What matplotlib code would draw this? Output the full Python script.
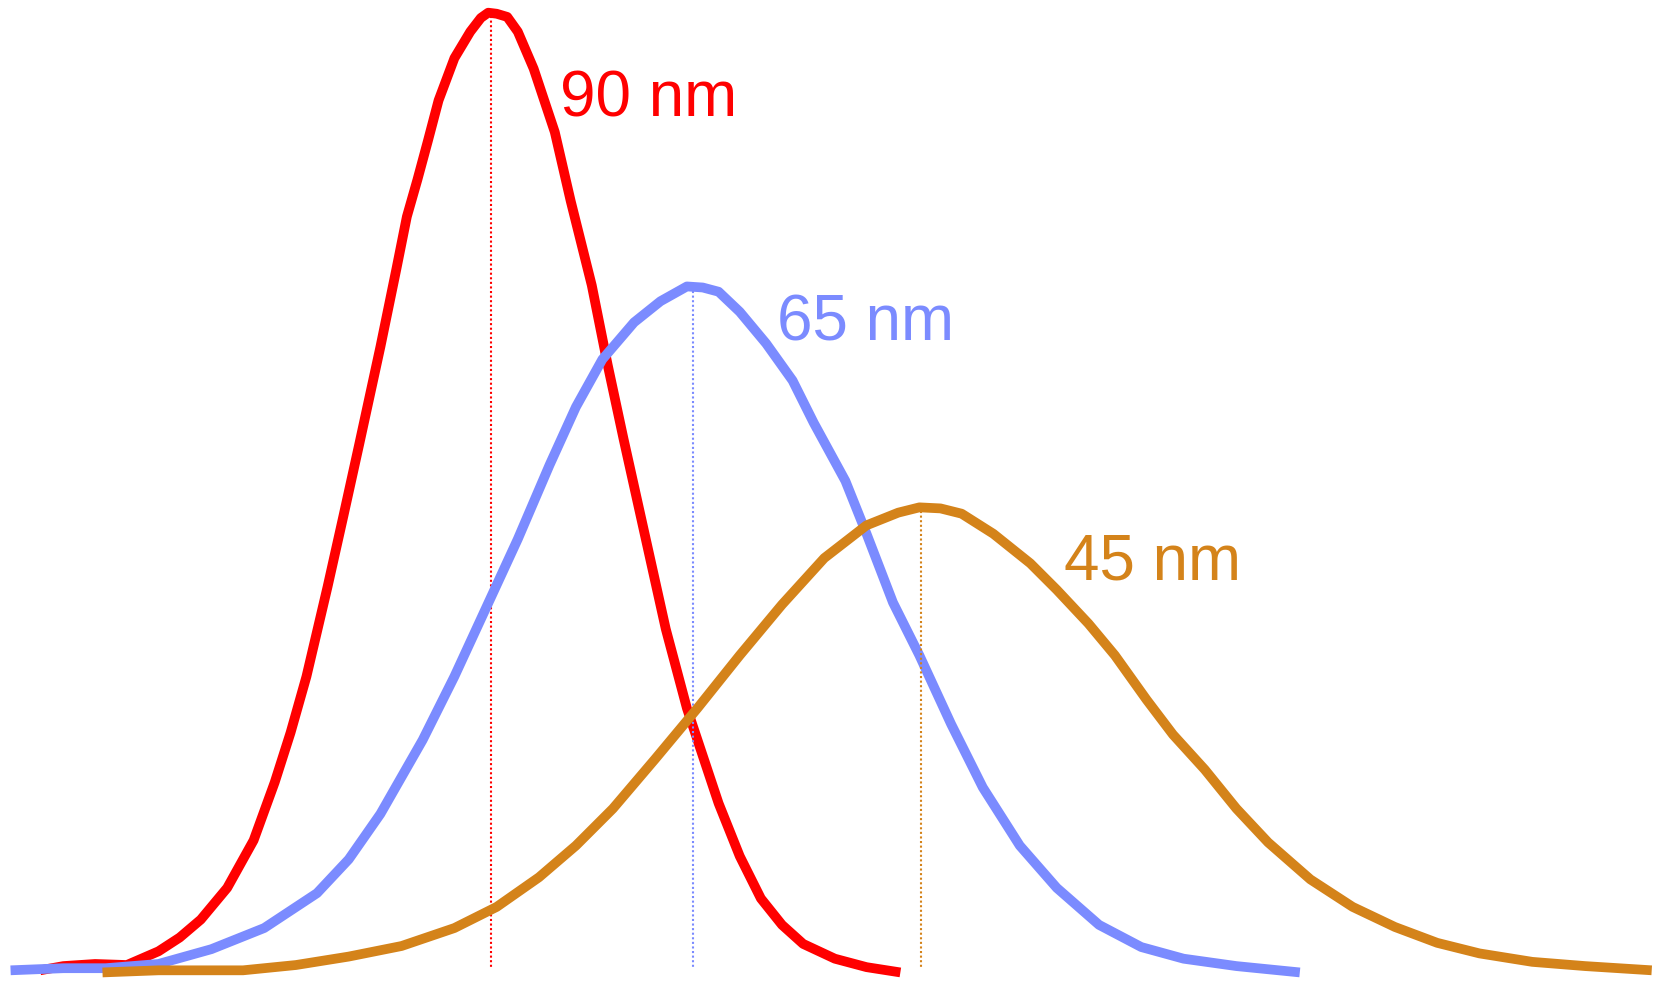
import matplotlib.pyplot as plt
import numpy as np

# curve samples (x across, y = distance from top)
red_x = [38, 60, 90, 120, 150, 170, 190, 215, 240, 260, 275, 290, 310, 325, 340, 360, 375, 385,
         395, 405, 415, 430, 445, 455, 462, 470, 480, 490, 505, 525, 540, 560, 575, 590, 610,
         630, 650, 660, 680, 700, 720, 740, 760, 790, 820, 852]
red_y = [918, 914, 912, 913, 900, 887, 870, 840, 795, 740, 693, 640, 555, 488, 420, 328, 255, 205,
         170, 133, 95, 55, 30, 17, 12, 13, 16, 30, 65, 125, 190, 270, 345, 415, 505,
         595, 670, 700, 760, 810, 850, 875, 893, 907, 915, 920]

blue_x = [10, 60, 100, 150, 200, 250, 300, 330, 360, 400, 430, 460, 490, 520, 545, 570, 600,
          625, 650, 665, 680, 700, 725, 750, 770, 800, 820, 845, 870, 900, 930, 965, 1000,
          1040, 1080, 1120, 1170, 1230]
blue_y = [918, 916, 916, 912, 898, 878, 845, 813, 770, 700, 640, 575, 510, 440, 385, 340, 305,
          285, 271, 272, 276, 295, 325, 360, 400, 455, 505, 570, 620, 685, 745, 800, 840,
          875, 896, 907, 914, 920]

gold_x = [97, 150, 230, 280, 330, 380, 430, 470, 510, 545, 580, 620, 660, 700, 740, 780, 820,
          850, 870, 890, 910, 940, 975, 1000, 1030, 1055, 1085, 1110, 1140, 1170, 1200, 1240,
          1280, 1320, 1360, 1400, 1450, 1500, 1563]
gold_y = [920, 918, 918, 913, 905, 895, 878, 858, 830, 800, 765, 718, 670, 620, 572, 528, 497,
          485, 480, 481, 486, 505, 533, 558, 590, 620, 662, 695, 728, 765, 797, 832,
          858, 877, 892, 902, 910, 914, 918]

peak_x = [465, 656, 872]
peak_top = [15, 275, 483]
labels = ["90 nm", "65 nm", "45 nm"]
label_pos = [(530, 110), (735, 322), (1007, 548)]

colors = ["#ff0000", "#7b8bff", "#d4831a"]
curves = [(red_x, red_y), (blue_x, blue_y), (gold_x, gold_y)]

fig = plt.figure(figsize=(16.57, 9.83), dpi=100)
ax = fig.add_axes([0, 0, 1, 1])
ax.set_xlim(0, 1568)
ax.set_ylim(930, 0)
ax.axis("off")

for (xs, ys), c, px, pt, lab, (lx, ly) in zip(curves, colors, peak_x, peak_top, labels, label_pos):
    ax.plot(xs, ys, color=c, lw=7, solid_capstyle="butt", solid_joinstyle="round")
    ax.plot([px, px], [pt, 917], color=c, lw=1.5, linestyle=(0, (1, 1.2)))
    ax.text(lx, ly, lab, color=c, fontsize=46, family="Liberation Sans",
            ha="left", va="baseline")

fig.savefig("out.png", dpi=100)
